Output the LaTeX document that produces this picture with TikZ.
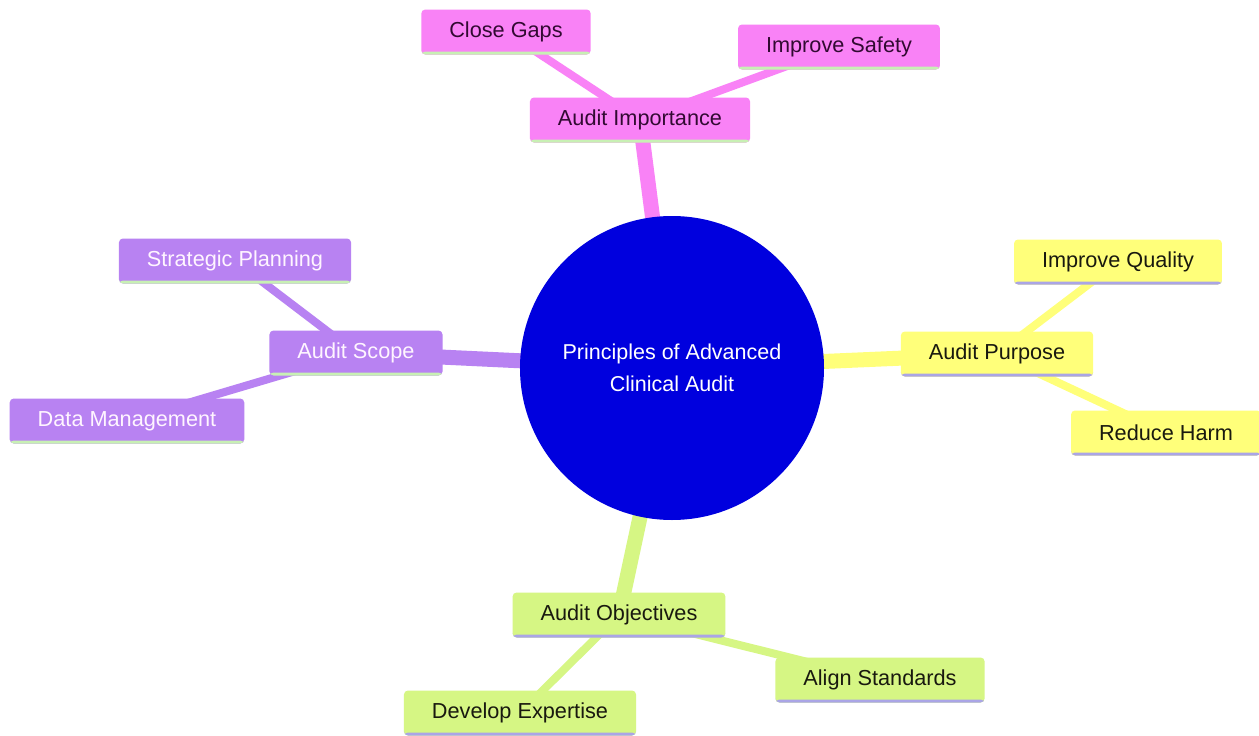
\documentclass[tikz,border=0pt]{standalone}
\usepackage{fontspec}
\setmainfont{Liberation Sans}
\usetikzlibrary{backgrounds}
\definecolor{cblue}{RGB}{0,0,222}
\definecolor{cpink}{RGB}{249,130,246}
\definecolor{cyel}{RGB}{255,255,122}
\definecolor{cpur}{RGB}{184,130,242}
\definecolor{cgrn}{RGB}{214,246,132}
\definecolor{lgreen}{RGB}{200,240,180}
\definecolor{lavender}{RGB}{170,165,230}
\definecolor{tpink}{RGB}{50,10,50}
\definecolor{tpur}{RGB}{255,245,255}
\definecolor{tdark}{RGB}{25,25,15}
\tikzset{
  x=1pt, y=-1pt,
  every node/.style={font=\fontsize{21.7}{25}\selectfont},
  mbox/.style={rectangle, rounded corners=4pt, inner xsep=28pt, inner ysep=0pt,
    minimum height=45pt, fill=#1},
  uline/.style={path picture={\fill[#1] ([yshift=3pt]path picture bounding box.south west) rectangle (path picture bounding box.south east);}},
  pinkbox/.style={mbox=cpink, uline=lgreen, text=tpink},
  yelbox/.style={mbox=cyel, uline=lavender, text=tdark},
  purbox/.style={mbox=cpur, uline=lgreen, text=tpur},
  grnbox/.style={mbox=cgrn, uline=lavender, text=tdark},
  rootnode/.style={circle, fill=cblue, minimum size=304pt, inner sep=0pt, text=white, align=center,
    font=\fontsize{21.5}{32}\selectfont},
  trunk/.style={line width=15pt, draw=#1},
  twig/.style={line width=8pt, draw=#1},
}
\begin{document}
\begin{tikzpicture}
\useasboundingbox (0,0) rectangle (1259,736);
\node[rootnode] (root) at (672,368) {Principles of Advanced\\Clinical Audit};
\node[pinkbox] (imp) at (640,120) {Audit Importance};
\node[pinkbox] (gaps) at (506,32) {Close Gaps};
\node[pinkbox] (safe) at (839,47) {Improve Safety};
\node[yelbox] (purp) at (997,354) {Audit Purpose};
\node[yelbox] (qual) at (1118,262) {Improve Quality};
\node[yelbox] (harm) at (1166,433) {Reduce Harm};
\node[purbox] (scope) at (356,353) {Audit Scope};
\node[purbox] (strat) at (235,261) {Strategic Planning};
\node[purbox] (data) at (127,421) {Data Management};
\node[grnbox] (obj) at (619,615) {Audit Objectives};
\node[grnbox] (align) at (880,680) {Align Standards};
\node[grnbox] (dev) at (520,713) {Develop Expertise};
\begin{scope}[on background layer]
\fill[white] (0,0) rectangle (1259,736);
\draw[trunk=cpink] (root.center) -- (imp.center);
\draw[trunk=cyel] (root.center) -- (purp.center);
\draw[trunk=cpur] (root.center) -- (scope.center);
\draw[trunk=cgrn] (root.center) -- (obj.center);
\draw[twig=cpink] (imp.center) -- (gaps.center);
\draw[twig=cpink] (imp.center) -- (safe.center);
\draw[twig=cyel] (purp.center) -- (qual.center);
\draw[twig=cyel] (purp.center) -- (harm.center);
\draw[twig=cpur] (scope.center) -- (strat.center);
\draw[twig=cpur] (scope.center) -- (data.center);
\draw[twig=cgrn] (obj.center) -- (align.center);
\draw[twig=cgrn] (obj.center) -- (dev.center);
\end{scope}
\end{tikzpicture}
\end{document}
